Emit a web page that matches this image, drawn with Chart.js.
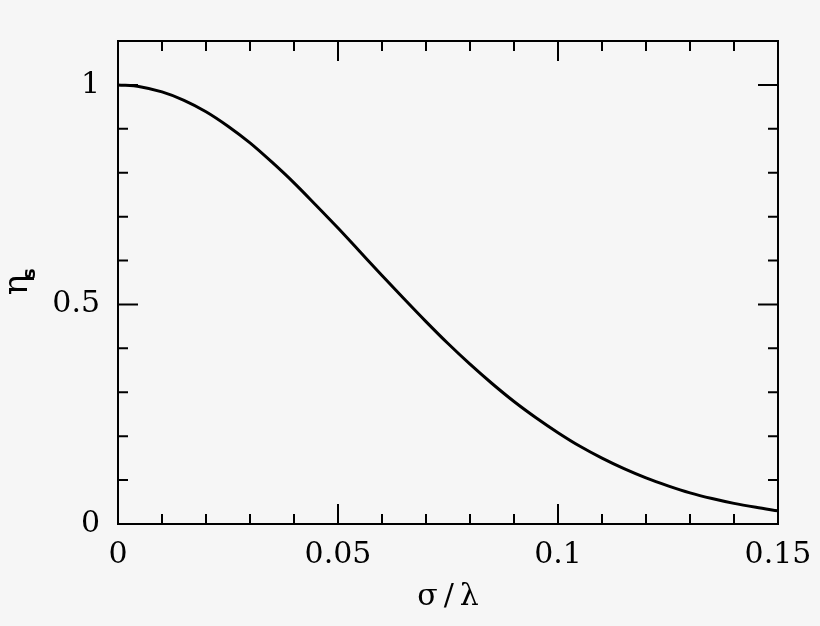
<!DOCTYPE html>
<html>
<head>
<meta charset="utf-8">
<script src="https://cdn.jsdelivr.net/npm/chart.js@4/dist/chart.umd.min.js"></script>
<style>
  html, body { margin: 0; padding: 0; background: #f6f6f6; }
  canvas { display: block; }
</style>
</head>
<body>
<canvas id="ruzeChart" width="820" height="626"></canvas>
<script>
// values
const sigmaOverLambda = [0, 0.005, 0.01, 0.015, 0.02, 0.025, 0.03, 0.035, 0.04, 0.045,
  0.05, 0.055, 0.06, 0.065, 0.07, 0.075, 0.08, 0.085, 0.09, 0.095,
  0.1, 0.105, 0.11, 0.115, 0.12, 0.125, 0.13, 0.135, 0.14, 0.145, 0.15];
const etaS = [1.000, 0.996, 0.984, 0.965, 0.939, 0.906, 0.868, 0.824, 0.777, 0.726,
  0.674, 0.620, 0.566, 0.513, 0.461, 0.411, 0.364, 0.320, 0.279, 0.242,
  0.208, 0.177, 0.150, 0.126, 0.105, 0.087, 0.071, 0.058, 0.047, 0.038, 0.030];

const xMajorTicks = [0, 0.05, 0.1, 0.15];
const xTickLabels = ['0', '0.05', '0.1', '0.15'];
const xMinorTicks = [0.01, 0.02, 0.03, 0.04, 0.06, 0.07, 0.08, 0.09, 0.11, 0.12, 0.13, 0.14];
const yMajorTicks = [0, 0.5, 1];
const yTickLabels = ['0', '0.5', '1'];
const yMinorTicks = [0.1, 0.2, 0.3, 0.4, 0.6, 0.7, 0.8, 0.9, 1.1];

const serif = 'DejaVu Serif';

// inward ticks on all four sides plus the frame
const frameTicks = {
  id: 'frameTicks',
  afterDatasetsDraw(chart) {
    const { ctx, chartArea: a, scales: { x, y } } = chart;
    ctx.save();
    ctx.strokeStyle = '#000';
    ctx.lineWidth = 2;
    ctx.beginPath();
    const xt = (vals, len) => vals.forEach(v => {
      const px = x.getPixelForValue(v);
      ctx.moveTo(px, a.bottom); ctx.lineTo(px, a.bottom - len);
      ctx.moveTo(px, a.top); ctx.lineTo(px, a.top + len);
    });
    const yt = (vals, len) => vals.forEach(v => {
      const py = y.getPixelForValue(v);
      if (py < a.top + 1) return;
      ctx.moveTo(a.left, py); ctx.lineTo(a.left + len, py);
      ctx.moveTo(a.right, py); ctx.lineTo(a.right - len, py);
    });
    xt(xMinorTicks, 10); xt(xMajorTicks, 20);
    yt(yMinorTicks, 10); yt(yMajorTicks, 20);
    ctx.stroke();
    ctx.strokeRect(a.left, a.top, a.right - a.left, a.bottom - a.top);
    ctx.restore();
  }
};

// rotated y title, eta with subscript s
const yTitle = {
  id: 'yTitle',
  afterDraw(chart) {
    const { ctx } = chart;
    ctx.save();
    ctx.translate(22, 285);
    ctx.rotate(-Math.PI / 2);
    ctx.fillStyle = '#000';
    ctx.textBaseline = 'alphabetic';
    ctx.textAlign = 'center';
    ctx.font = '34px "' + serif + '"';
    ctx.fillText('η', 0, 5);
    ctx.font = 'bold 18px "DejaVu Sans"';
    ctx.textAlign = 'left';
    ctx.fillText('s', 6, 13);
    ctx.restore();
  }
};

new Chart(document.getElementById('ruzeChart'), {
  type: 'line',
  data: {
    datasets: [{
      data: sigmaOverLambda.map((v, i) => ({ x: v, y: etaS[i] })),
      borderColor: '#000',
      borderWidth: 3,
      pointRadius: 0,
      cubicInterpolationMode: 'monotone',
      fill: false
    }]
  },
  options: {
    responsive: false,
    animation: false,
    devicePixelRatio: 1,
    layout: { padding: { left: 0, right: 42, top: 41, bottom: 0 } },
    plugins: { legend: { display: false }, tooltip: { enabled: false } },
    scales: {
      x: {
        type: 'linear',
        min: 0,
        max: 0.15,
        grid: { display: false, drawTicks: false },
        border: { display: false },
        afterBuildTicks: s => { s.ticks = xMajorTicks.map(v => ({ value: v })); },
        afterFit: s => { s.height = 102; s.paddingLeft = 0; s.paddingRight = 0; },
        ticks: {
          padding: 13,
          color: '#000',
          font: { family: serif, size: 30 },
          maxRotation: 0,
          callback: (v, i) => xTickLabels[i]
        },
        title: {
          display: true,
          text: 'σ\u2009/\u2009λ',
          color: '#000',
          font: { family: serif, size: 30 },
          padding: { top: 0, bottom: 11 }
        }
      },
      y: {
        type: 'linear',
        min: 0,
        max: 1.1,
        grid: { display: false, drawTicks: false },
        border: { display: false },
        afterBuildTicks: s => { s.ticks = yMajorTicks.map(v => ({ value: v })); },
        afterFit: s => { s.width = 118; s.paddingTop = 0; s.paddingBottom = 0; },
        ticks: {
          padding: 18,
          color: '#000',
          font: { family: serif, size: 30 },
          callback: (v, i) => yTickLabels[i]
        }
      }
    }
  },
  plugins: [frameTicks, yTitle]
});
</script>
</body>
</html>
